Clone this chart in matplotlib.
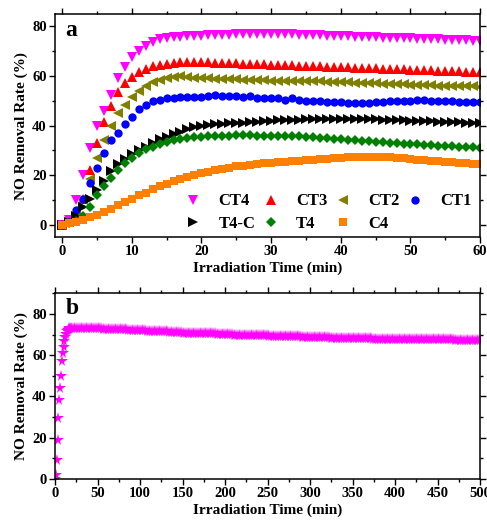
import numpy as np
import matplotlib
matplotlib.use("Agg")
import matplotlib.pyplot as plt
from matplotlib.ticker import MultipleLocator

plt.rcParams["font.family"] = ["Liberation Serif", "DejaVu Serif"]
plt.rcParams["font.weight"] = "bold"

# panel a: one reading per minute, 0..60 min
time_a = np.arange(0, 61)

ct4 = [0, 2, 10, 20, 31, 40, 46, 52.5, 59, 63.8, 67.5, 70.2, 72.3, 73.7, 74.8, 75.3,
       75.6, 75.9, 76.1, 76.2, 76.3, 76.4, 76.5, 76.6, 76.7, 76.8, 76.9, 77, 77, 77.1, 77,
       76.9, 76.8, 76.8, 76.7, 76.6, 76.5, 76.4, 76.3, 76.2, 76.1, 76, 75.9, 75.8, 75.7,
       75.6, 75.5, 75.4, 75.4, 75.3, 75.2, 75.1, 75, 74.9, 74.8, 74.7, 74.6, 74.5, 74.4,
       74.3, 74.1]
ct3 = [0, 1, 5, 10.5, 22, 33, 41.5, 48, 53.5, 57, 59.5, 61.5, 63, 64, 64.6, 65, 65.3,
       65.5, 65.6, 65.6, 65.5, 65.5, 65.4, 65.3, 65.2, 65.1, 65, 64.9, 64.8, 64.7, 64.6,
       64.5, 64.4, 64.3, 64.2, 64.1, 64, 63.9, 63.8, 63.7, 63.6, 63.5, 63.4, 63.3, 63.2,
       63.1, 63, 62.9, 62.8, 62.7, 62.6, 62.5, 62.4, 62.3, 62.2, 62.1, 62, 61.9, 61.8,
       61.7, 61.6]
ct2 = [0, 1, 4, 10, 18.5, 27, 34, 40, 45, 48.5, 51.5, 54, 56, 57.5, 58.5, 59.2, 59.6,
       60, 59.6, 59.3, 59.1, 59, 58.9, 58.8, 58.7, 58.6, 58.5, 58.4, 58.3, 58.2, 58.1, 58,
       58, 58, 57.9, 57.9, 57.8, 57.8, 57.7, 57.6, 57.5, 57.4, 57.3, 57.2, 57.1, 57, 56.9,
       56.8, 56.7, 56.6, 56.5, 56.4, 56.3, 56.2, 56.1, 56, 56, 55.9, 55.9, 55.8, 55.7]
ct1 = [0, 1, 6, 10.5, 17, 23, 29, 34, 37, 40.5, 43.5, 46.5, 48.5, 50, 50.5, 51, 51.2,
       51.4, 51.5, 51.5, 51.5, 52, 52.2, 52, 51.8, 51.8, 51.7, 52, 51, 51, 51, 51.2, 50.5,
       51, 50.5, 50, 50, 49.8, 49.5, 49.5, 49.5, 49.2, 49, 49.2, 49.3, 49.5, 49.6, 49.8,
       49.9, 50, 50, 50.5, 50.2, 50, 49.9, 49.8, 49.8, 49.7, 49.6, 49.5, 49.4]
t4c = [0, 1, 3.5, 7, 10.5, 14, 17.5, 21.5, 24.5, 26.5, 28.5, 30, 31.5, 33, 34.5, 35.5,
       36.5, 37.5, 38.5, 39.5, 40, 40.3, 40.5, 40.7, 40.9, 41, 41.2, 41.3, 41.5, 41.7, 42,
       42.1, 42.2, 42.3, 42.4, 42.5, 42.6, 42.6, 42.7, 42.8, 42.8, 42.8, 42.7, 42.7, 42.6,
       42.5, 42.4, 42.3, 42.2, 42.1, 42, 41.9, 41.8, 41.7, 41.6, 41.5, 41.4, 41.3, 41.2,
       41.1, 41]
t4 = [0, 0.5, 1.5, 3.5, 7, 12, 15.5, 19, 22, 25, 27, 29, 30.5, 31.5, 32.5, 33.5, 34,
      34.5, 35, 35.2, 35.5, 35.6, 35.7, 35.8, 35.9, 36, 36, 36, 35.9, 35.9, 35.8, 35.8,
      35.7, 35.6, 35.6, 35.5, 35.3, 35.1, 34.9, 34.7, 34.5, 34.3, 34.1, 33.9, 33.7, 33.5,
      33.3, 33.1, 32.9, 32.7, 32.5, 32.4, 32.2, 32.1, 31.9, 31.8, 31.6, 31.5, 31.3, 31.2,
      31]
c4 = [0, 0.5, 1, 2, 3, 3.8, 5, 6.5, 8, 9, 10.5, 12, 13, 14.5, 15.5, 16.5, 17.5, 18.5,
      19.2, 20, 20.8, 21.4, 22, 22.5, 23, 23.5, 23.8, 24.1, 24.5, 24.8, 25, 25.2, 25.5,
      25.6, 25.8, 26, 26.2, 26.4, 26.6, 26.8, 27, 27.2, 27.3, 27.5, 27.5, 27.5, 27.4, 27.3,
      27.1, 26.8, 26.5, 26.3, 26.1, 25.9, 25.7, 25.5, 25.3, 25.1, 24.9, 24.7, 24.5]

# panel b: CT4 long-term run, every minute up to 20 min, then every 2 min
time_b = list(range(0, 21)) + list(range(22, 501, 2))
ct4_long = [0, 2, 9, 19, 29.5, 38.5, 44, 50, 57, 61, 64, 67, 69, 70.5, 71.5, 72, 72.5,
            73, 73, 73.2, 73.3,
            73.3, 73.3, 73.3, 73.3, 73.3, 73.3, 73.3, 73.2, 73.2, 73.2,   # 22-40
            73.2, 73.1, 73.1, 73.1, 73.0, 73.0, 73.0, 72.9, 72.9, 72.9,   # 42-60
            72.8, 72.8, 72.8, 72.7, 72.7, 72.7, 72.6, 72.6, 72.6, 72.5,   # 62-80
            72.5, 72.5, 72.4, 72.4, 72.3, 72.3, 72.2, 72.2, 72.1, 72.1,   # 82-100
            72.0, 72.0, 72.0, 71.9, 71.9, 71.9, 71.8, 71.8, 71.8, 71.9,   # 102-120
            71.9, 71.9, 71.8, 71.7, 71.6, 71.5, 71.4, 71.3, 71.2, 71.1,   # 122-140
            71.1, 71.0, 71.0, 71.0, 70.9, 70.9, 70.9, 70.9, 70.8, 70.8,   # 142-160
            70.8, 70.8, 70.8, 70.7, 70.7, 70.7, 70.7, 70.7, 70.6, 70.6,   # 162-180
            70.6, 70.6, 70.6, 70.6, 70.5, 70.5, 70.5, 70.5, 70.5, 70.4,   # 182-200
            70.4, 70.3, 70.2, 70.1, 70.0, 69.9, 69.9, 69.9, 69.8, 69.8,   # 202-220
            69.8, 69.8, 69.8, 69.7, 69.7, 69.7, 69.7, 69.7, 69.7, 69.6,   # 222-240
            69.6, 69.6, 69.6, 69.6, 69.6, 69.5, 69.5, 69.5, 69.5, 69.5,   # 242-260
            69.5, 69.5, 69.4, 69.4, 69.4, 69.4, 69.4, 69.4, 69.3, 69.3,   # 262-280
            69.3, 69.3, 69.2, 69.1, 69.0, 68.9, 68.8, 68.8, 68.8, 68.7,   # 282-300
            68.7, 68.7, 68.7, 68.7, 68.6, 68.6, 68.6, 68.6, 68.6, 68.6,   # 302-320
            68.6, 68.5, 68.5, 68.5, 68.5, 68.5, 68.5, 68.5, 68.5, 68.4,   # 322-340
            68.4, 68.4, 68.4, 68.4, 68.4, 68.4, 68.4, 68.3, 68.3, 68.3,   # 342-360
            68.3, 68.2, 68.2, 68.1, 68.1, 68.1, 68.0, 68.0, 68.0, 68.0,   # 362-380
            68.0, 68.0, 68.0, 68.0, 68.0, 67.9, 67.9, 67.9, 67.9, 67.9,   # 382-400
            67.9, 67.9, 67.9, 67.9, 67.9, 67.8, 67.8, 67.8, 67.8, 67.8,   # 402-420
            67.8, 67.8, 67.8, 67.8, 67.8, 67.7, 67.7, 67.7, 67.7, 67.7,   # 422-440
            67.7, 67.7, 67.7, 67.7, 67.7, 67.6, 67.6, 67.6, 67.6, 67.6,   # 442-460
            67.6, 67.6, 67.6, 67.6, 67.5, 67.5, 67.5, 67.5, 67.5, 67.5,   # 462-480
            67.5, 67.5, 67.5, 67.5, 67.5, 67.4, 67.4, 67.4, 67.4, 67.4]   # 482-500

series_a = [
    ("CT4", ct4, "v", "#ff00ff", 7.5),
    ("CT3", ct3, "^", "#ff0000", 7.5),
    ("CT2", ct2, "<", "#808000", 7.5),
    ("CT1", ct1, "o", "#0000ff", 6),
    ("T4-C", t4c, ">", "#000000", 7.5),
    ("T4", t4, "D", "#008000", 5),
    ("C4", c4, "s", "#ff8000", 6),
]

fig = plt.figure(figsize=(4.87, 5.2), dpi=100)
ax_a = fig.add_axes([0.113, 0.544, 0.873, 0.429])
ax_b = fig.add_axes([0.113, 0.079, 0.873, 0.357])

handles = {}
for name, vals, mk, col, ms in series_a:
    (h,) = ax_a.plot(time_a, vals, linestyle="none", marker=mk, color=col,
                     markersize=ms, markeredgewidth=0, label=name, clip_on=True)
    handles[name] = h

# matplotlib fills legend columns first, so reorder for row-wise reading
order = ["CT4", "T4-C", "CT3", "T4", "CT2", "C4", "CT1"]
ax_a.legend([handles[k] for k in order], order, ncol=4, loc="lower right",
            bbox_to_anchor=(1.0, -0.015), borderaxespad=0.1, frameon=False,
            fontsize=12, handlelength=1.6, handletextpad=0.7, columnspacing=0.15,
            labelspacing=0.4)

ax_b.plot(time_b, ct4_long, linestyle="none", marker="*", color="#ff00ff",
          markersize=8.5, markeredgewidth=0)

ax_a.set_xlim(-1, 60)
ax_a.set_ylim(-5, 85)
ax_a.xaxis.set_major_locator(MultipleLocator(10))
ax_a.xaxis.set_minor_locator(MultipleLocator(5))
ax_a.yaxis.set_major_locator(MultipleLocator(20))
ax_a.yaxis.set_minor_locator(MultipleLocator(10))

ax_b.set_xlim(0, 500)
ax_b.set_ylim(0, 90)
ax_b.xaxis.set_major_locator(MultipleLocator(50))
ax_b.xaxis.set_minor_locator(MultipleLocator(25))
ax_b.yaxis.set_major_locator(MultipleLocator(20))
ax_b.yaxis.set_minor_locator(MultipleLocator(10))

for ax, tag in ((ax_a, "a"), (ax_b, "b")):
    ax.set_xlabel("Irradiation Time (min)", fontsize=11, fontweight="bold", labelpad=2.5)
    ax.set_ylabel("NO Removal Rate (%)", fontsize=11, fontweight="bold", labelpad=3)
    ax.tick_params(which="both", direction="out", top=True, right=True,
                   labelsize=10.5, width=1.0, pad=2)
    ax.tick_params(which="major", length=4)
    ax.tick_params(which="minor", length=2.5)
    for lab in ax.get_xticklabels() + ax.get_yticklabels():
        lab.set_fontweight("bold")
    for sp in ax.spines.values():
        sp.set_linewidth(1.1)
    ax.text(0.025, 0.975, tag, transform=ax.transAxes, fontsize=17,
            fontweight="bold", va="top", ha="left")

fig.savefig("out.png", dpi=100)
